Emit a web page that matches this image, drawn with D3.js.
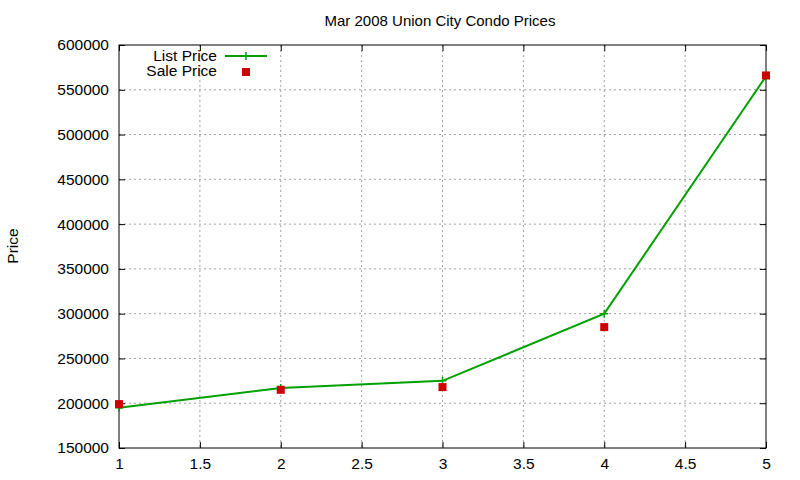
<!DOCTYPE html>
<html><head><meta charset="utf-8">
<script src="https://cdn.jsdelivr.net/npm/d3@7"></script>
<style>body{margin:0;background:#fff}text{font-family:"Liberation Sans",Arial,sans-serif}</style>
</head><body>
<svg id="c" width="800" height="480"></svg>
<script>
var xs = [1, 2, 3, 4, 5];
var listPrice = [195000, 217000, 225000, 300000, 565000];
var salePrice = [199000, 215000, 218000, 285000, 566000];
var xTicks = [1, 1.5, 2, 2.5, 3, 3.5, 4, 4.5, 5];
var yTicks = [150000, 200000, 250000, 300000, 350000, 400000, 450000, 500000, 550000, 600000];

var svg = d3.select("#c");
var L = 119, R = 766, T = 45, B = 448;
var x = d3.scaleLinear().domain([1, 5]).range([L, R]);
var y = d3.scaleLinear().domain([150000, 600000]).range([B, T]);

// grid
svg.append("g").selectAll("line").data(xTicks.slice(1, -1)).join("line")
  .attr("x1", d => x(d)).attr("x2", d => x(d)).attr("y1", T).attr("y2", B)
  .attr("stroke", "#a0a0a0").attr("stroke-dasharray", "2,3");
svg.append("g").selectAll("line").data(yTicks.slice(1, -1)).join("line")
  .attr("y1", d => y(d)).attr("y2", d => y(d)).attr("x1", L).attr("x2", R)
  .attr("stroke", "#a0a0a0").attr("stroke-dasharray", "2,3");

// axes with inward ticks
svg.append("g").attr("transform", "translate(0," + B + ")")
  .call(d3.axisBottom(x).tickValues(xTicks).tickSize(-6).tickPadding(10).tickFormat(d3.format("")));
svg.append("g").attr("transform", "translate(" + L + ",0)")
  .call(d3.axisLeft(y).tickValues(yTicks).tickSize(-6).tickPadding(10).tickFormat(d3.format("d")));
svg.append("g").attr("transform", "translate(" + R + ",0)")
  .call(d3.axisRight(y).tickValues(yTicks).tickSize(-6).tickFormat(""));
svg.append("g").attr("transform", "translate(0," + T + ")")
  .call(d3.axisTop(x).tickValues(xTicks).tickSize(-6).tickFormat(""));
svg.selectAll(".domain").remove();
svg.selectAll(".tick text").attr("font-size", 15.5).attr("fill", "#000");
svg.append("rect").attr("x", L).attr("y", T).attr("width", R - L).attr("height", B - T)
  .attr("fill", "none").attr("stroke", "#000");

// list line
var line = d3.line().x((d, i) => x(xs[i])).y(d => y(d));
svg.append("path").datum(listPrice).attr("d", line).attr("fill", "none")
  .attr("stroke", "#00a000").attr("stroke-width", 2);
svg.append("g").selectAll("path").data(listPrice).join("path")
  .attr("d", (d, i) => "M" + (x(xs[i]) - 4) + "," + y(d) + "h8M" + x(xs[i]) + "," + (y(d) - 4) + "v8")
  .attr("stroke", "#00a000").attr("stroke-width", 1.5);

// sale points
svg.append("g").selectAll("rect").data(salePrice).join("rect")
  .attr("x", (d, i) => x(xs[i]) - 4).attr("y", d => y(d) - 4)
  .attr("width", 8).attr("height", 8).attr("fill", "#cc0000");

// legend
svg.append("text").attr("x", 217).attr("y", 61).attr("text-anchor", "end").attr("font-size", 15.5).text("List Price");
svg.append("line").attr("x1", 225).attr("x2", 267).attr("y1", 56).attr("y2", 56).attr("stroke", "#00a000").attr("stroke-width", 2);
svg.append("path").attr("d", "M242,56h8M246,52v8").attr("stroke", "#00a000").attr("stroke-width", 1.5);
svg.append("text").attr("x", 217).attr("y", 76).attr("text-anchor", "end").attr("font-size", 15.5).text("Sale Price");
svg.append("rect").attr("x", 242).attr("y", 68).attr("width", 8).attr("height", 8).attr("fill", "#cc0000");

// titles
svg.append("text").attr("x", 440).attr("y", 26).attr("text-anchor", "middle").attr("font-size", 15).text("Mar 2008 Union City Condo Prices");
svg.append("text").attr("transform", "translate(18,246) rotate(-90)").attr("text-anchor", "middle").attr("font-size", 15.5).text("Price");
</script>
</body></html>
